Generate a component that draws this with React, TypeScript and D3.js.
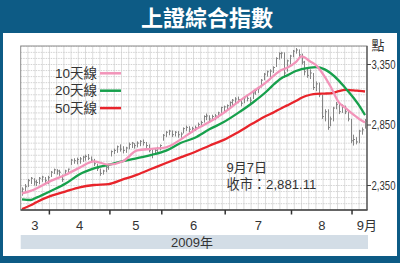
import React from "react";
import * as d3 from "d3";

// ---- trading days (2009) ----
const marDays = [18, 19, 20, 23, 24, 25, 26, 27, 30, 31];
const aprDays = [1, 2, 3, 7, 8, 9, 10, 13, 14, 15, 16, 17, 20, 21, 22, 23, 24, 27, 28, 29, 30];
const mayDays = [4, 5, 6, 7, 8, 11, 12, 13, 14, 15, 18, 19, 20, 21, 22, 25, 26, 27];
const junDays = [1, 2, 3, 4, 5, 8, 9, 10, 11, 12, 15, 16, 17, 18, 19, 22, 23, 24, 25, 26, 29, 30];
const julDays = [1, 2, 3, 6, 7, 8, 9, 10, 13, 14, 15, 16, 17, 20, 21, 22, 23, 24, 27, 28, 29, 30, 31];
const augDays = [3, 4, 5, 6, 7, 10, 11, 12, 13, 14, 17, 18, 19, 20, 21, 24, 25, 26, 27, 28, 31];
const sepDays = [1, 2, 3, 4, 7];

const monthNums = [3, 4, 5, 6, 7, 8, 9];
const monthDayLists = [marDays, aprDays, mayDays, junDays, julDays, augDays, sepDays];
const monthLabels = ["3", "4", "5", "6", "7", "8", "9月"];

// ---- daily index values ----
const high = [
  2335, 2362, 2404, 2420, 2410, 2395, 2420, 2430, 2420, 2430,
  2470, 2490, 2485, 2480, 2440, 2480, 2490, 2570, 2575, 2580, 2585, 2595, 2605, 2610, 2590, 2570, 2530, 2490, 2480, 2510, 2530,
  2640, 2655, 2680, 2690, 2675, 2670, 2705, 2710, 2700, 2715, 2725, 2730, 2710, 2690, 2650, 2660, 2670, 2690,
  2775, 2800, 2810, 2805, 2800, 2800, 2790, 2830, 2845, 2840, 2835, 2845, 2870, 2885, 2930, 2945, 2930, 2935, 2940, 2960, 3000, 3010,
  3020, 3045, 3065, 3080, 3085, 3060, 3085, 3090, 3080, 3125, 3145, 3165, 3230, 3280, 3300, 3310, 3335, 3410, 3450, 3455, 3450, 3390, 3430,
  3470, 3486, 3475, 3440, 3380, 3320, 3310, 3280, 3210, 3200, 3100, 2980, 2980, 2920, 3000, 3040, 3030, 3020, 3010, 2970, 2900,
  2770, 2750, 2810, 2830, 2900,
];
const low = [
  2266, 2296, 2338, 2362, 2350, 2345, 2360, 2380, 2370, 2360,
  2420, 2445, 2440, 2430, 2380, 2430, 2450, 2520, 2530, 2525, 2530, 2545, 2555, 2560, 2540, 2510, 2470, 2430, 2440, 2460, 2480,
  2590, 2610, 2620, 2630, 2615, 2620, 2650, 2660, 2655, 2665, 2675, 2680, 2660, 2625, 2575, 2610, 2620, 2640,
  2720, 2750, 2765, 2750, 2755, 2745, 2745, 2780, 2800, 2790, 2790, 2800, 2820, 2835, 2870, 2890, 2875, 2885, 2890, 2910, 2950, 2960,
  2970, 2990, 3015, 3030, 3030, 3005, 3030, 3045, 3030, 3065, 3100, 3115, 3160, 3220, 3250, 3245, 3280, 3330, 3390, 3400, 3240, 3290, 3350,
  3410, 3440, 3400, 3350, 3260, 3240, 3230, 3140, 3130, 3080, 2900, 2880, 2810, 2840, 2880, 2980, 2940, 2950, 2940, 2880, 2700,
  2680, 2690, 2700, 2770, 2820,
];
const close = [
  2320, 2340, 2390, 2410, 2380, 2375, 2410, 2420, 2390, 2415,
  2460, 2480, 2470, 2460, 2400, 2470, 2485, 2560, 2555, 2565, 2570, 2585, 2590, 2575, 2560, 2530, 2490, 2450, 2470, 2500, 2520,
  2630, 2640, 2670, 2650, 2640, 2660, 2690, 2700, 2680, 2700, 2715, 2705, 2680, 2640, 2610, 2640, 2655, 2680,
  2765, 2790, 2800, 2770, 2790, 2770, 2775, 2820, 2830, 2815, 2820, 2830, 2855, 2870, 2920, 2925, 2900, 2920, 2925, 2950, 2995, 3000,
  3010, 3035, 3055, 3065, 3060, 3030, 3075, 3070, 3055, 3115, 3135, 3150, 3220, 3270, 3290, 3295, 3325, 3400, 3440, 3445, 3280, 3380, 3420,
  3460, 3470, 3430, 3370, 3290, 3260, 3280, 3160, 3190, 3100, 2920, 2960, 2830, 2900, 2990, 3020, 2960, 3000, 2960, 2900, 2720,
  2730, 2710, 2800, 2810, 2881,
];

// ---- moving averages (read at sample dates) ----
const maDates = [
  "3/18", "3/23", "3/25", "4/1", "4/9", "4/16", "4/23", "4/30", "5/8", "5/15", "5/22",
  "6/2", "6/9", "6/16", "6/23", "6/30", "7/7", "7/14", "7/21", "7/23", "7/28", "7/30",
  "8/4", "8/6", "8/11", "8/13", "8/18", "8/20", "8/25", "8/27", "9/1", "9/3", "9/7",
];
const ma10 = [
  2285, 2305, 2325, 2388, 2437, 2498, 2550, 2522, 2550, 2640, 2653,
  2666, 2729, 2811, 2874, 2951, 3041, 3124, 3209, 3251, 3305, 3323,
  3370, 3417, 3375, 3345, 3250, 3170, 3035, 2995, 2935, 2900, 2870,
];
const ma20 = [
  2236, 2230, 2250, 2305, 2364, 2443, 2491, 2521, 2551, 2577, 2603,
  2638, 2701, 2745, 2814, 2874, 2950, 3034, 3131, 3178, 3237, 3260,
  3296, 3312, 3325, 3328, 3310, 3280, 3215, 3160, 3075, 3010, 2932,
];
const ma50 = [
  2155, 2186, 2212, 2264, 2300, 2335, 2354, 2362, 2400, 2440, 2488,
  2536, 2582, 2627, 2679, 2727, 2791, 2862, 2929, 2950, 2989, 3012,
  3048, 3075, 3100, 3108, 3110, 3112, 3130, 3140, 3137, 3132, 3127,
];

const legendLabels = ["10天線", "20天線", "50天線"];
const lineColors = ["#f294b9", "#17a04c", "#e8242b"];
const yTickValues = [2350, 2850, 3350];

const W = 400;
const H = 263;
const PL = 20.7, PR = 367, PT = 46, PB = 210;

export default function App() {
  const dates: string[] = [];
  const monthIndexRanges: [number, number][] = [];
  monthDayLists.forEach((days, mi) => {
    const start = dates.length;
    days.forEach((d) => dates.push(`${monthNums[mi]}/${d}`));
    monthIndexRanges.push([start, dates.length - 1]);
  });

  const x = d3.scalePoint<string>().domain(dates).range([22, 365]);
  const y = d3.scaleLinear().domain([2350, 3350]).range([185.5, 64.5]);

  const maSeries = [ma10, ma20, ma50];
  const line = d3
    .line<[string, number]>()
    .x((d) => x(d[0]) as number)
    .y((d) => y(d[1]))
    .curve(d3.curveMonotoneX);

  const hGrid = d3.range(2200, 3501, 50);
  const vGrid = d3.range(PL + 7.2, PR - 1, 7.2);

  const boundaries = monthIndexRanges.slice(1).map(([s]) => ((x(dates[s - 1]) as number) + (x(dates[s]) as number)) / 2);

  const font = "'Liberation Sans', Arial, 'Noto Sans CJK TC', sans-serif";

  return (
    <svg width={W} height={H} style={{ position: "absolute", left: 0, top: 0 }} fontFamily={font}>
      <rect x={0} y={0} width={W} height={H} fill="#0d5b85" />
      <rect x={3} y={33} width={394} height={223} fill="#ffffff" />
      <text x={207} y={26} fill="#ffffff" fontSize={22} fontWeight="bold" textAnchor="middle"
        fontFamily="'Noto Sans CJK TC', sans-serif">上證綜合指數</text>

      {/* grid */}
      <g>
        {vGrid.map((gx, i) => (
          <line key={"v" + i} x1={gx} x2={gx} y1={PT} y2={PB} stroke="#d4d4d4" strokeWidth={0.8} />
        ))}
        {hGrid.map((v, i) => (
          <line key={"h" + i} x1={PL} x2={PR} y1={y(v)} y2={y(v)} stroke="#c8c8c8" strokeWidth={0.8} strokeDasharray="1.5,1" />
        ))}
      </g>

      {/* bars */}
      <g stroke="#858585" strokeWidth={1}>
        {dates.map((d, i) => {
          const cx = Math.round(x(d) as number) + 0.5;
          return (
            <g key={d}>
              <line x1={cx} x2={cx} y1={y(high[i])} y2={y(low[i])} />
              <line x1={cx} x2={cx + 1.5} y1={y(close[i])} y2={y(close[i])} />
            </g>
          );
        })}
      </g>

      {/* moving averages */}
      <defs>
        <clipPath id="plotClip">
          <rect x={PL} y={PT} width={PR - PL} height={PB - PT} />
        </clipPath>
      </defs>
      <g clipPath="url(#plotClip)" fill="none">
        {[2, 1, 0].map((k) => (
          <path key={k} d={line(maDates.map((md, i) => [md, maSeries[k][i]] as [string, number])) || ""}
            stroke={lineColors[k]} strokeWidth={2.3} strokeLinejoin="round" />
        ))}
      </g>

      {/* frame */}
      <rect x={PL} y={PT} width={PR - PL} height={PB - PT} fill="none" stroke="#8c8c8c" strokeWidth={1} />
      <line x1={PL} x2={PR + 0.5} y1={PB} y2={PB} stroke="#444" strokeWidth={1.6} />
      <line x1={PR} x2={PR} y1={PT} y2={PB} stroke="#555" strokeWidth={1.3} />

      {/* legend */}
      {legendLabels.map((lab, i) => (
        <g key={lab}>
          <text x={97} y={78 + i * 17.4} fontSize={13.5} fill="#333" textAnchor="end">{lab}</text>
          <line x1={100} x2={121} y1={73.3 + i * 17.4} y2={73.3 + i * 17.4} stroke={lineColors[i]} strokeWidth={2.5} />
        </g>
      ))}

      {/* annotation */}
      <text x={226.5} y={171.5} fontSize={13} fill="#333">9月7日</text>
      <text x={226.5} y={188.5} fontSize={13.2} fill="#333">收市：2,881.11</text>

      {/* right axis */}
      {yTickValues.map((v) => (
        <g key={v}>
          <line x1={PR} x2={PR + 4} y1={y(v)} y2={y(v)} stroke="#444" strokeWidth={1} />
          <text transform={`translate(371.5, ${y(v) + 4.3}) scale(0.8, 1)`} fontSize={12} fill="#333">
            {d3.format(",")(v)}
          </text>
        </g>
      ))}
      <text x={371.5} y={50} fontSize={13} fill="#333" fontFamily="'Noto Sans CJK TC', sans-serif">點</text>

      {/* bottom axis */}
      {boundaries.map((bx, i) => (
        <line key={"t" + i} x1={bx} x2={bx} y1={PB} y2={PB + 4.5} stroke="#333" strokeWidth={1.5} />
      ))}
      {monthIndexRanges.map(([s, e], i) => {
        const mid = ((x(dates[s]) as number) + (x(dates[e]) as number)) / 2;
        const last = i === monthIndexRanges.length - 1;
        return (
          <text key={"m" + i} x={last ? mid - 2.5 : mid} y={229.5} fontSize={13} fill="#333"
            textAnchor={last ? "start" : "middle"}>{monthLabels[i]}</text>
        );
      })}
      <rect x={PL} y={235} width={PR + 1 - PL} height={14} fill="#d3dde6" />
      <text x={192} y={247} fontSize={13} fill="#333" textAnchor="middle">2009年</text>
    </svg>
  );
}
